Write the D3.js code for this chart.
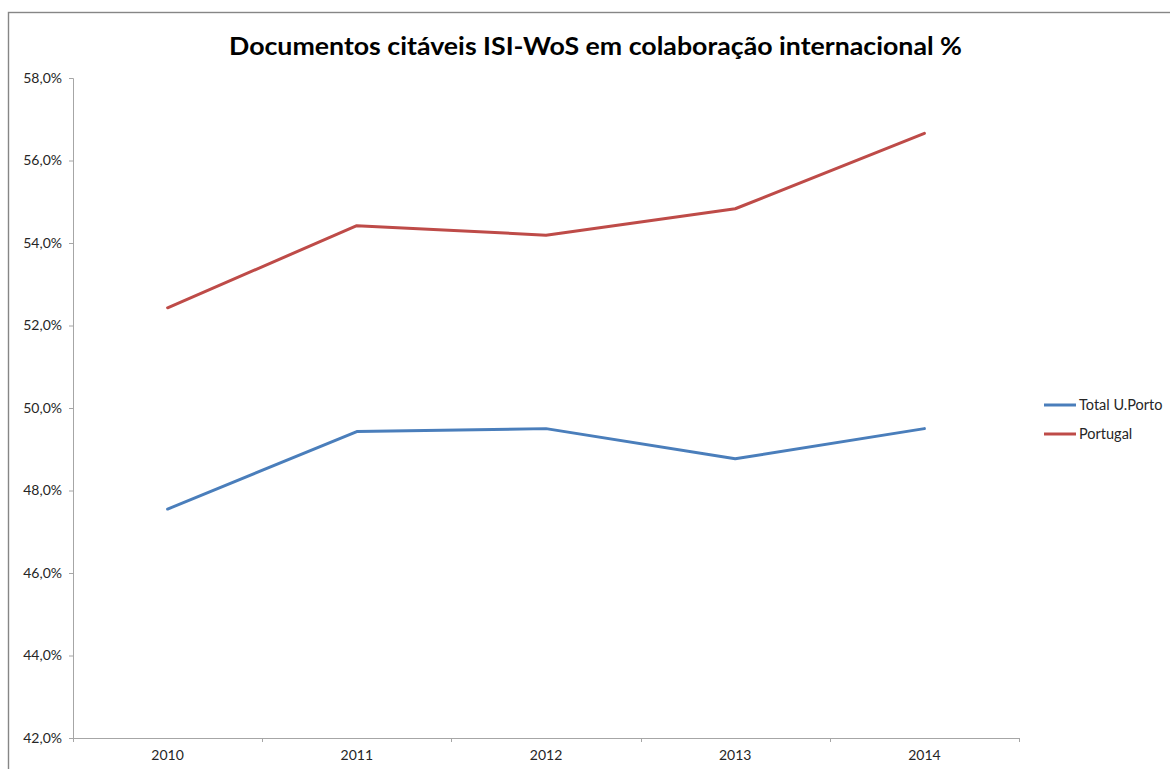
<!DOCTYPE html>
<html><head><meta charset="utf-8">
<script src="https://cdn.jsdelivr.net/npm/d3@7"></script>
<style>body{margin:0;background:#fff;}svg{display:block;}</style>
</head><body>
<script>
const years = ["2010","2011","2012","2013","2014"];
const seriesNames = ["Total U.Porto","Portugal"];
const totalUPorto = [47.55, 49.43, 49.50, 48.77, 49.50];
const portugal = [52.43, 54.42, 54.19, 54.83, 56.66];
const yTicks = [42,44,46,48,50,52,54,56,58];
const colors = ["#4a7ebb","#be4b48"];
const title = "Documentos citáveis ISI-WoS em colaboração internacional %";

const W = 1170, H = 769;
const svg = d3.select("body").append("svg").attr("width", W).attr("height", H);
const font = "Lato, 'Liberation Sans', sans-serif";

svg.append("rect").attr("x",8.5).attr("y",12.5).attr("width",1300).attr("height",900)
  .attr("fill","none").attr("stroke","#868686").attr("stroke-width",1.4);

const x = d3.scaleBand().domain(years).range([73, 1019]);
const y = d3.scaleLinear().domain([42,58]).range([738, 78]);
const fmt = v => v.toFixed(1).replace(".", ",") + "%";

const yAxis = svg.append("g").attr("transform","translate(73,0)")
  .call(d3.axisLeft(y).tickValues(yTicks).tickFormat(fmt).tickSize(4).tickPadding(7));
yAxis.select(".domain").attr("stroke","#a6a6a6").attr("d","M-4,78.5H0.5V738.5");
yAxis.selectAll(".tick line").attr("stroke","#a6a6a6");
yAxis.selectAll("text").attr("font-family",font).attr("font-size",14).attr("fill","#262626");

const xAxis = svg.append("g").attr("transform","translate(0,738)");
xAxis.call(d3.axisBottom(x).tickSize(0).tickPadding(12));
xAxis.select(".domain").attr("stroke","#a6a6a6").attr("d","M73,0.5H1019.5");
xAxis.selectAll("text").attr("font-family",font).attr("font-size",14).attr("fill","#262626");
const bounds = years.map(d => x(d)).concat([x(years[years.length-1]) + x.bandwidth()]);
xAxis.selectAll(".bt").data(bounds).enter().append("line")
  .attr("x1", d => Math.round(d)+0.5).attr("x2", d => Math.round(d)+0.5)
  .attr("y1",0).attr("y2",4).attr("stroke","#a6a6a6");

const line = d3.line().x((d,i) => x(years[i]) + x.bandwidth()/2).y(d => y(d));
[totalUPorto, portugal].forEach((s,i) => {
  svg.append("path").datum(s).attr("d", line).attr("fill","none")
    .attr("stroke", colors[i]).attr("stroke-width",3).attr("stroke-linejoin","round").attr("stroke-linecap","round");
});

svg.append("text").attr("x",595.5).attr("y",55).attr("text-anchor","middle")
  .attr("font-family",font).attr("font-weight","bold").attr("font-size",25)
  .attr("textLength",733).attr("lengthAdjust","spacingAndGlyphs")
  .attr("fill","#000").text(title);

const leg = svg.append("g");
seriesNames.forEach((n,i) => {
  const ly = 405 + i*29;
  leg.append("line").attr("x1",1044).attr("x2",1076).attr("y1",ly).attr("y2",ly)
    .attr("stroke",colors[i]).attr("stroke-width",3);
  leg.append("text").attr("x",1079).attr("y",ly+5).attr("font-family",font).attr("font-size",14.5)
    .attr("fill","#262626").text(n);
});
</script>
</body></html>
